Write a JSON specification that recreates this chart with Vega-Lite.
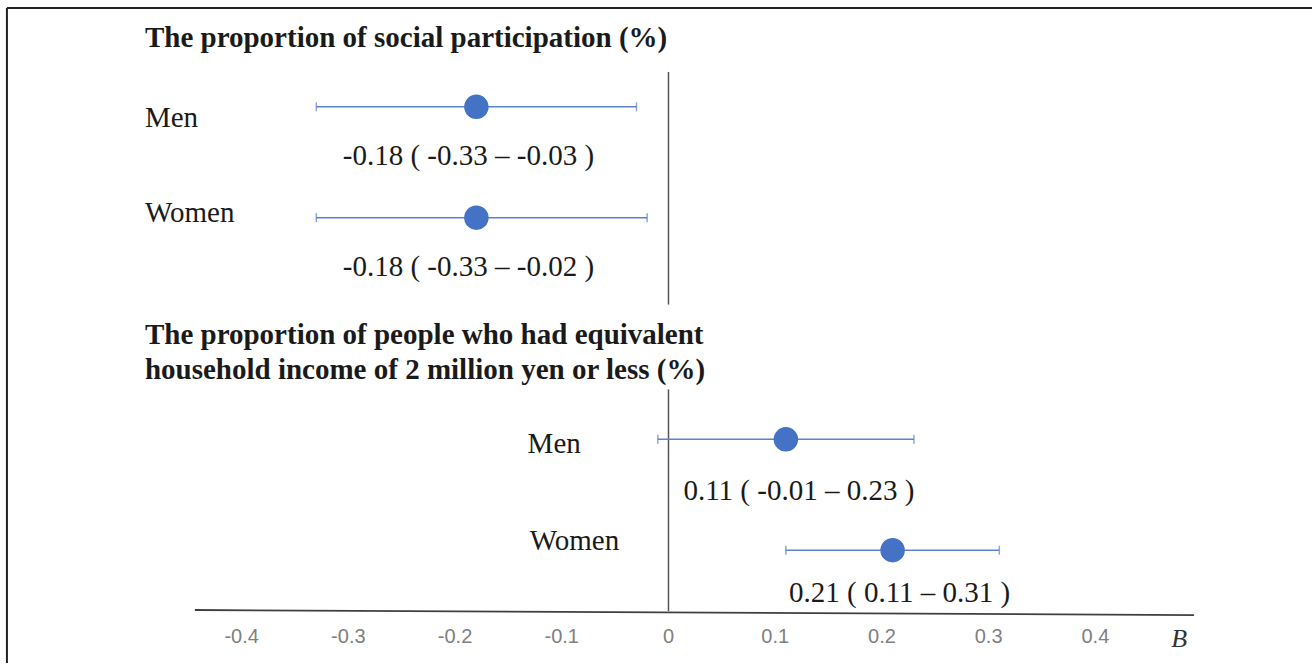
{
  "$schema": "https://vega.github.io/schema/vega-lite/v6.json",
  "width": 1313,
  "height": 664,
  "padding": 0,
  "autosize": {"type": "fit", "contains": "padding"},
  "background": "white",
  "config": {"view": {"stroke": null}},
  "datasets": {
    "est": [
      {"panel": "social", "sex": "Men", "row": 1, "est": -0.18, "lo": -0.33, "hi": -0.03, "label": "-0.18 ( -0.33 – -0.03 )"},
      {"panel": "social", "sex": "Women", "row": 2, "est": -0.18, "lo": -0.33, "hi": -0.02, "label": "-0.18 ( -0.33 – -0.02 )"},
      {"panel": "income", "sex": "Men", "row": 4, "est": 0.11, "lo": -0.01, "hi": 0.23, "label": "0.11 ( -0.01 – 0.23 )"},
      {"panel": "income", "sex": "Women", "row": 5, "est": 0.21, "lo": 0.11, "hi": 0.31, "label": "0.21 ( 0.11 – 0.31 )"}
    ],
    "ticks": [
      {"v": -0.4, "t": "-0.4"}, {"v": -0.3, "t": "-0.3"}, {"v": -0.2, "t": "-0.2"}, {"v": -0.1, "t": "-0.1"},
      {"v": 0, "t": "0"}, {"v": 0.1, "t": "0.1"}, {"v": 0.2, "t": "0.2"}, {"v": 0.3, "t": "0.3"}, {"v": 0.4, "t": "0.4"}
    ],
    "zero": [
      {"a": 0.685, "b": 2.784},
      {"a": 3.549, "b": 5.55}
    ],
    "one": [{}]
  },
  "layer": [
    {
      "data": {"values": [{"x": -0.6199, "x2": 0.603, "y": 0.108, "y2": 0.108}, {"x": -0.6199, "x2": -0.6199, "y": 0.108, "y2": 6.018}]},
      "mark": {"type": "rule", "color": "#222222", "strokeWidth": 2},
      "encoding": {
        "x": {"field": "x", "type": "quantitative", "scale": {"domain": [-0.6264, 0.603], "nice": false, "zero": false}, "axis": null},
        "x2": {"field": "x2"},
        "y": {"field": "y", "type": "quantitative", "scale": {"domain": [0.036, 6.018], "reverse": true, "nice": false, "zero": false}, "axis": null},
        "y2": {"field": "y2"}
      }
    },
    {
      "data": {"name": "zero"},
      "mark": {"type": "rule", "color": "#555555", "strokeWidth": 1.5},
      "encoding": {
        "x": {"datum": 0, "type": "quantitative"},
        "y": {"field": "a", "type": "quantitative"},
        "y2": {"field": "b"}
      }
    },
    {
      "data": {"values": [{"x": -0.4438, "x2": 0.4925, "y": 5.54, "y2": 5.586}]},
      "mark": {"type": "rule", "color": "#404040", "strokeWidth": 1.8},
      "encoding": {
        "x": {"field": "x", "type": "quantitative"},
        "x2": {"field": "x2"},
        "y": {"field": "y", "type": "quantitative"},
        "y2": {"field": "y2"}
      }
    },
    {
      "data": {"name": "ticks"},
      "mark": {"type": "text", "font": "Liberation Sans", "fontSize": 20, "color": "#808080", "baseline": "middle", "align": "center"},
      "encoding": {
        "x": {"field": "v", "type": "quantitative"},
        "y": {"datum": 5.78, "type": "quantitative"},
        "text": {"field": "t"}
      }
    },
    {
      "data": {"name": "one"},
      "mark": {"type": "text", "font": "Liberation Serif", "fontStyle": "italic", "fontSize": 26, "color": "#333333", "baseline": "middle", "align": "center"},
      "encoding": {
        "x": {"datum": 0.4785, "type": "quantitative"},
        "y": {"datum": 5.802, "type": "quantitative"},
        "text": {"value": "B"}
      }
    },
    {
      "data": {"name": "est"},
      "mark": {"type": "rule", "color": "#5B82CC", "strokeWidth": 1.5},
      "encoding": {
        "x": {"field": "lo", "type": "quantitative"},
        "x2": {"field": "hi"},
        "y": {"field": "row", "type": "quantitative"}
      }
    },
    {
      "data": {"name": "est"},
      "mark": {"type": "tick", "orient": "vertical", "color": "#5B82CC", "size": 9, "thickness": 1.5},
      "encoding": {
        "x": {"field": "lo", "type": "quantitative"},
        "y": {"field": "row", "type": "quantitative"}
      }
    },
    {
      "data": {"name": "est"},
      "mark": {"type": "tick", "orient": "vertical", "color": "#5B82CC", "size": 9, "thickness": 1.5},
      "encoding": {
        "x": {"field": "hi", "type": "quantitative"},
        "y": {"field": "row", "type": "quantitative"}
      }
    },
    {
      "data": {"name": "est"},
      "mark": {"type": "circle", "color": "#4472C4", "size": 600, "opacity": 1},
      "encoding": {
        "x": {"field": "est", "type": "quantitative"},
        "y": {"field": "row", "type": "quantitative"}
      }
    },
    {
      "data": {"name": "est"},
      "transform": [{"filter": "datum.panel === 'social'"}],
      "mark": {"type": "text", "font": "Liberation Serif", "fontSize": 29, "color": "#1a1a1a", "baseline": "middle", "align": "center", "yOffset": 49, "dx": -8},
      "encoding": {
        "x": {"field": "est", "type": "quantitative"},
        "y": {"field": "row", "type": "quantitative"},
        "text": {"field": "label"}
      }
    },
    {
      "data": {"name": "est"},
      "transform": [{"filter": "datum.panel === 'income' && datum.sex === 'Men'"}],
      "mark": {"type": "text", "font": "Liberation Serif", "fontSize": 29, "color": "#1a1a1a", "baseline": "middle", "align": "center", "yOffset": 52, "dx": 13},
      "encoding": {
        "x": {"field": "est", "type": "quantitative"},
        "y": {"field": "row", "type": "quantitative"},
        "text": {"field": "label"}
      }
    },
    {
      "data": {"name": "est"},
      "transform": [{"filter": "datum.panel === 'income' && datum.sex === 'Women'"}],
      "mark": {"type": "text", "font": "Liberation Serif", "fontSize": 29, "color": "#1a1a1a", "baseline": "middle", "align": "center", "yOffset": 43, "dx": 7},
      "encoding": {
        "x": {"field": "est", "type": "quantitative"},
        "y": {"field": "row", "type": "quantitative"},
        "text": {"field": "label"}
      }
    },
    {
      "data": {"name": "est"},
      "transform": [{"filter": "datum.panel === 'social' && datum.sex === 'Men'"}],
      "mark": {"type": "text", "font": "Liberation Serif", "fontSize": 29, "color": "#1a1a1a", "baseline": "middle", "align": "left", "yOffset": 11},
      "encoding": {
        "x": {"datum": -0.4906, "type": "quantitative"},
        "y": {"field": "row", "type": "quantitative"},
        "text": {"field": "sex"}
      }
    },
    {
      "data": {"name": "est"},
      "transform": [{"filter": "datum.panel === 'social' && datum.sex === 'Women'"}],
      "mark": {"type": "text", "font": "Liberation Serif", "fontSize": 29, "color": "#1a1a1a", "baseline": "middle", "align": "left", "yOffset": -5},
      "encoding": {
        "x": {"datum": -0.4906, "type": "quantitative"},
        "y": {"field": "row", "type": "quantitative"},
        "text": {"field": "sex"}
      }
    },
    {
      "data": {"name": "est"},
      "transform": [{"filter": "datum.panel === 'income' && datum.sex === 'Men'"}],
      "mark": {"type": "text", "font": "Liberation Serif", "fontSize": 29, "color": "#1a1a1a", "baseline": "middle", "align": "left", "yOffset": 5},
      "encoding": {
        "x": {"datum": -0.132, "type": "quantitative"},
        "y": {"field": "row", "type": "quantitative"},
        "text": {"field": "sex"}
      }
    },
    {
      "data": {"name": "est"},
      "transform": [{"filter": "datum.panel === 'income' && datum.sex === 'Women'"}],
      "mark": {"type": "text", "font": "Liberation Serif", "fontSize": 29, "color": "#1a1a1a", "baseline": "middle", "align": "left", "yOffset": -9},
      "encoding": {
        "x": {"datum": -0.130, "type": "quantitative"},
        "y": {"field": "row", "type": "quantitative"},
        "text": {"field": "sex"}
      }
    },
    {
      "data": {"name": "one"},
      "mark": {"type": "text", "font": "Liberation Serif", "fontWeight": "bold", "fontSize": 29, "color": "#1a1a1a", "baseline": "middle", "align": "left"},
      "encoding": {
        "x": {"datum": -0.4906, "type": "quantitative"},
        "y": {"datum": 0.378, "type": "quantitative"},
        "text": {"value": "The proportion of social participation (%)"}
      }
    },
    {
      "data": {"name": "one"},
      "mark": {"type": "text", "font": "Liberation Serif", "fontWeight": "bold", "fontSize": 29, "color": "#1a1a1a", "baseline": "middle", "align": "left"},
      "encoding": {
        "x": {"datum": -0.4906, "type": "quantitative"},
        "y": {"datum": 3.055, "type": "quantitative"},
        "text": {"value": "The proportion of people who had equivalent"}
      }
    },
    {
      "data": {"name": "one"},
      "mark": {"type": "text", "font": "Liberation Serif", "fontWeight": "bold", "fontSize": 29, "color": "#1a1a1a", "baseline": "middle", "align": "left"},
      "encoding": {
        "x": {"datum": -0.4906, "type": "quantitative"},
        "y": {"datum": 3.375, "type": "quantitative"},
        "text": {"value": "household income of 2 million yen or less (%)"}
      }
    }
  ]
}
